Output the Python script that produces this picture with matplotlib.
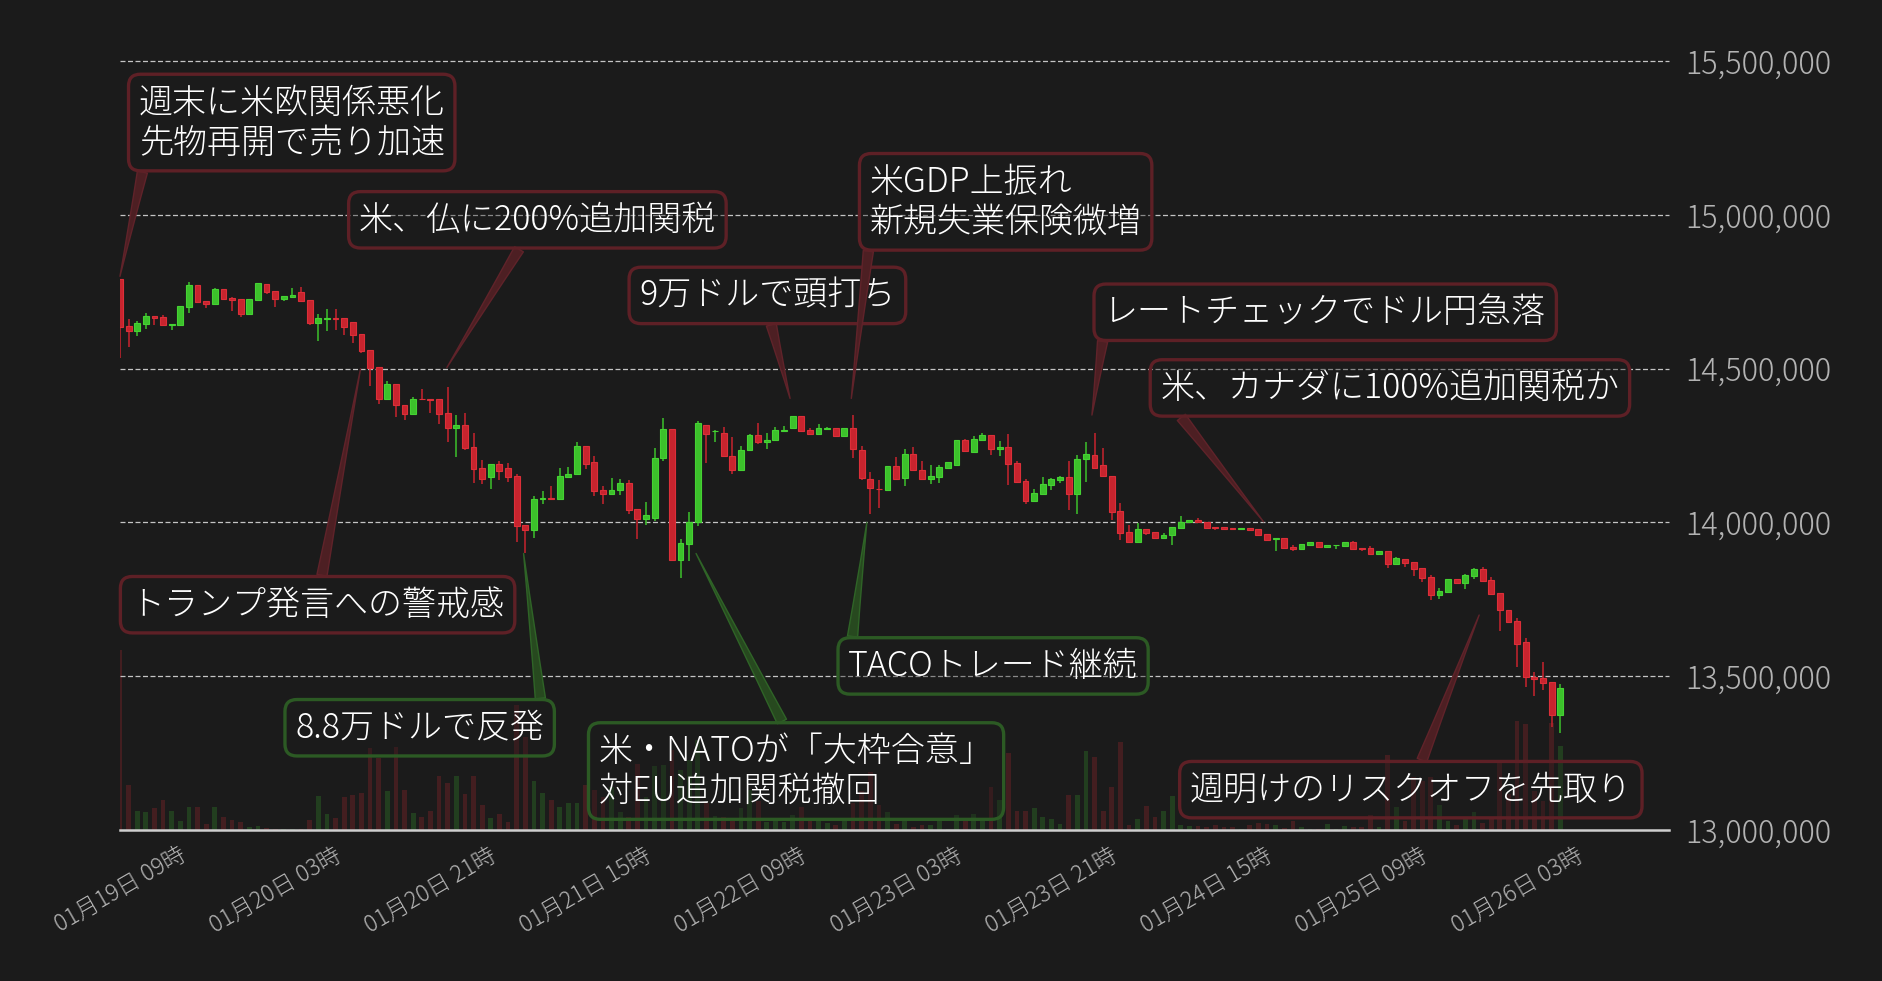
import numpy as np
import matplotlib
matplotlib.use("Agg")
import matplotlib.pyplot as plt
from matplotlib.ticker import FuncFormatter

plt.rcParams['font.family'] = ['Noto Sans CJK JP', 'DejaVu Sans']
plt.rcParams['font.weight'] = 'light'

# ---------------- data (prices in thousand JPY, hourly candles from 01/19 09:00) ----------------
opens = [14790, 14638, 14622, 14645, 14670, 14667, 14643, 14643, 14700, 14771, 14719, 14710, 14758, 14729, 14725, 14678,
         14723, 14774, 14751, 14727, 14733, 14748, 14722, 14648, 14662, 14663, 14664, 14651, 14612, 14560, 14504, 14401,
         14449, 14381, 14353, 14401, 14400, 14400, 14355, 14307, 14316, 14244, 14176, 14148, 14189, 14176, 14150, 13991,
         13976, 14075, 14079, 14077, 14148, 14158, 14247, 14195, 14107, 14093, 14106, 14127, 14043, 14012, 14015, 14209,
         14303, 13879, 13931, 14000, 14316, 14296, 14290, 14216, 14171, 14236, 14284, 14263, 14269, 14298, 14307, 14346,
         14300, 14288, 14305, 14306, 14282, 14306, 14235, 14141, 14109, 14105, 14185, 14145, 14222, 14170, 14142, 14149,
         14177, 14187, 14268, 14230, 14269, 14284, 14240, 14245, 14193, 14134, 14070, 14093, 14122, 14138, 14147, 14093,
         14206, 14219, 14186, 14151, 14037, 13969, 13937, 13978, 13969, 13950, 13960, 13983, 14000, 14008, 14000, 13985,
         13985, 13982, 13979, 13982, 13978, 13962, 13945, 13949, 13921, 13914, 13927, 13936, 13920, 13925, 13924, 13936,
         13917, 13917, 13898, 13907, 13866, 13881, 13871, 13852, 13822, 13765, 13775, 13816, 13804, 13827, 13848, 13813,
         13770, 13715, 13679, 13611, 13498, 13494, 13481, 13374]
highs = [14790, 14660, 14654, 14681, 14670, 14673, 14645, 14703, 14781, 14771, 14719, 14761, 14758, 14733, 14725, 14725,
         14777, 14774, 14751, 14735, 14761, 14764, 14722, 14677, 14693, 14693, 14664, 14651, 14612, 14560, 14504, 14459,
         14449, 14383, 14407, 14433, 14400, 14400, 14439, 14348, 14357, 14290, 14202, 14189, 14199, 14192, 14159, 13991,
         14086, 14102, 14120, 14176, 14179, 14261, 14247, 14215, 14120, 14146, 14140, 14138, 14043, 14066, 14241, 14339,
         14303, 13945, 14033, 14329, 14316, 14300, 14310, 14277, 14248, 14287, 14323, 14291, 14310, 14315, 14346, 14346,
         14307, 14319, 14310, 14306, 14306, 14350, 14248, 14164, 14138, 14185, 14212, 14238, 14245, 14199, 14186, 14186,
         14196, 14268, 14271, 14281, 14292, 14284, 14264, 14287, 14199, 14141, 14108, 14147, 14144, 14151, 14199, 14219,
         14261, 14290, 14242, 14151, 14063, 13991, 13998, 13978, 13969, 13965, 13985, 14021, 14008, 14013, 14000, 13985,
         13985, 13982, 13982, 13982, 13978, 13962, 13949, 13949, 13926, 13930, 13936, 13936, 13926, 13926, 13936, 13939,
         13917, 13923, 13907, 13907, 13887, 13881, 13871, 13852, 13829, 13787, 13816, 13816, 13833, 13852, 13855, 13822,
         13770, 13715, 13689, 13624, 13513, 13546, 13481, 13474]
lows = [14535, 14570, 14605, 14628, 14641, 14641, 14625, 14643, 14681, 14712, 14697, 14710, 14723, 14688, 14668, 14678,
        14723, 14742, 14700, 14720, 14733, 14720, 14641, 14590, 14622, 14625, 14609, 14583, 14551, 14444, 14385, 14401,
        14343, 14332, 14353, 14400, 14356, 14321, 14262, 14213, 14237, 14128, 14126, 14109, 14138, 14131, 13936, 13899,
        13950, 14061, 14074, 14077, 14145, 14158, 14175, 14087, 14061, 14093, 14090, 14028, 13947, 13992, 14005, 14200,
        13879, 13820, 13875, 13989, 14194, 14262, 14217, 14157, 14171, 14236, 14256, 14238, 14269, 14298, 14304, 14297,
        14288, 14288, 14299, 14282, 14279, 14210, 14139, 14028, 14048, 14102, 14142, 14118, 14171, 14141, 14126, 14129,
        14177, 14187, 14232, 14230, 14269, 14220, 14217, 14121, 14132, 14061, 14065, 14093, 14106, 14129, 14041, 14028,
        14132, 14178, 14151, 14009, 13944, 13937, 13937, 13959, 13950, 13947, 13926, 13983, 14000, 14001, 13983, 13976,
        13979, 13979, 13979, 13975, 13958, 13944, 13907, 13918, 13907, 13914, 13927, 13921, 13918, 13913, 13924, 13914,
        13908, 13898, 13898, 13853, 13862, 13856, 13827, 13807, 13749, 13752, 13775, 13804, 13784, 13817, 13806, 13764,
        13648, 13677, 13531, 13466, 13436, 13455, 13336, 13316]
closes = [14635, 14622, 14647, 14670, 14665, 14641, 14644, 14703, 14771, 14716, 14710, 14758, 14725, 14723, 14678, 14725,
          14777, 14749, 14727, 14735, 14739, 14720, 14648, 14664, 14663, 14662, 14636, 14609, 14557, 14502, 14401, 14449,
          14381, 14353, 14400, 14400, 14398, 14353, 14307, 14316, 14242, 14174, 14141, 14189, 14167, 14148, 13988, 13976,
          14076, 14080, 14077, 14150, 14159, 14247, 14191, 14103, 14093, 14107, 14127, 14041, 14012, 14024, 14208, 14303,
          13879, 13933, 14000, 14323, 14288, 14297, 14217, 14171, 14237, 14284, 14262, 14267, 14302, 14302, 14346, 14297,
          14288, 14306, 14306, 14282, 14306, 14240, 14145, 14113, 14108, 14185, 14142, 14222, 14171, 14141, 14151, 14180,
          14196, 14268, 14232, 14271, 14284, 14238, 14245, 14191, 14132, 14070, 14095, 14125, 14141, 14147, 14093, 14206,
          14222, 14178, 14151, 14035, 13966, 13937, 13978, 13966, 13950, 13959, 13985, 14000, 14008, 14001, 13983, 13983,
          13979, 13979, 13982, 13975, 13960, 13944, 13949, 13918, 13915, 13930, 13936, 13921, 13926, 13926, 13936, 13914,
          13914, 13898, 13907, 13866, 13884, 13869, 13849, 13820, 13765, 13777, 13816, 13804, 13829, 13848, 13810, 13767,
          13716, 13677, 13606, 13498, 13492, 13479, 13374, 13461]
volumes = [180, 45, 19, 18, 22, 30, 19, 9, 23, 23, 6, 23, 13, 10, 8, 3, 4, 2, 1, 1, 1, 1, 10, 34, 16, 12, 33, 35, 37, 82,
           72, 39, 83, 40, 17, 13, 19, 54, 47, 54, 36, 54, 25, 12, 16, 8, 125, 93, 49, 37, 30, 23, 27, 27, 45, 40, 33, 43,
           18, 13, 66, 33, 64, 65, 80, 60, 70, 90, 27, 14, 13, 12, 22, 40, 29, 8, 12, 8, 15, 23, 12, 12, 7, 5, 9, 27, 39,
           58, 25, 18, 6, 9, 3, 5, 5, 9, 1, 15, 9, 16, 12, 43, 30, 77, 19, 19, 22, 13, 11, 6, 35, 35, 79, 73, 19, 43, 88,
           5, 11, 24, 13, 19, 34, 5, 4, 4, 3, 5, 3, 3, 1, 5, 7, 6, 5, 2, 9, 3, 1, 1, 6, 1, 4, 3, 3, 15, 3, 75, 23, 9, 53,
           49, 53, 25, 9, 5, 13, 18, 7, 13, 70, 36, 109, 106, 39, 29, 107, 84]

tick_labels = ["01月19日 09時", "01月20日 03時", "01月20日 21時", "01月21日 15時", "01月22日 09時",
               "01月23日 03時", "01月23日 21時", "01月24日 15時", "01月25日 09時", "01月26日 03時"]
tick_step = 18
y_ticks = [13_000_000, 13_500_000, 14_000_000, 14_500_000, 15_000_000, 15_500_000]

# (text, kind, candle index of tip, tip price, box centre in axes fraction, arrow start rel. to text)
annotations = [
    ("週末に米欧関係悪化\n先物再開で売り加速", "down", 0.0, 14_800_000, (0.1109, 0.920), (0.02, 0.0)),
    ("米、仏に200%追加関税", "down", 37.9, 14_503_000, (0.2695, 0.7935), (0.468, 0.0)),
    ("トランプ発言への警戒感", "down", 27.9, 14_500_000, (0.1276, 0.293), (0.506, 1.0)),
    ("8.8万ドルで反発", "up", 46.8, 13_899_000, (0.1935, 0.133), (0.99, 1.0)),
    ("米・NATOが「大枠合意」\n対EU追加関税撤回", "up", 66.8, 13_899_000, (0.4365, 0.0767), (0.479, 1.0)),
    ("9万ドルで頭打ち", "down", 77.7, 14_403_000, (0.4180, 0.6952), (0.504, 0.0)),
    ("米GDP上振れ\n新規失業保険微増", "down", 84.8, 14_403_000, (0.5718, 0.8169), (0.0, 0.0)),
    ("TACOトレード継続", "up", 86.6, 14_000_000, (0.5637, 0.2134), (0.01, 1.0)),
    ("レートチェックでドル円急落", "down", 112.7, 14_349_000, (0.7781, 0.6733), (0.0, 0.0)),
    ("米、カナダに100%追加関税か", "down", 132.6, 14_002_000, (0.8199, 0.5749), (0.026, 0.0)),
    ("週明けのリスクオフを先取り", "down", 157.6, 13_699_000, (0.8334, 0.0525), (0.515, 1.0)),
]

# ---------------- styling ----------------
BG = '#1b1b1b'
RED = '#c8242e'
RED_EDGE = '#dc2f39'
GREEN = '#3cc12b'
GREEN_EDGE = '#45d233'
GRID = '#c4c4c4'
LABEL = '#b3b3b3'
BOX = {"down": ('#5e2026', '#4d1f23', '#60232a'),
       "up": ('#2c5a24', '#27491f', '#2f6427')}

o = np.array(opens) * 1000.0
h = np.array(highs) * 1000.0
l = np.array(lows) * 1000.0
c = np.array(closes) * 1000.0
v = np.array(volumes, dtype=float)
n = len(o)
x = np.arange(n)
up = c >= o

fig = plt.figure(figsize=(18.83, 9.81), dpi=100, facecolor=BG)
ax = fig.add_axes([0.0637, 0.1539, 0.8226, 0.7839])
ax2 = ax.twinx()
ax.set_zorder(ax2.get_zorder() + 1)
ax.patch.set_visible(False)
ax2.set_facecolor(BG)

# volume
vcol = [(0.24, 0.75, 0.18, 0.22) if u else (0.83, 0.16, 0.21, 0.22) for u in up]
ax2.bar(x, v, width=0.55, color=vcol, linewidth=0)
ax2.set_ylim(0, v.max() * 4.27)
ax2.axis('off')

# candles
col = np.where(up, GREEN, RED)
ecol = np.where(up, GREEN_EDGE, RED_EDGE)
ax.vlines(x, l, h, colors=col, linewidth=1.1, zorder=3)
body_b = np.minimum(o, c)
body_h = np.maximum(np.abs(c - o), 1200)
ax.bar(x, body_h, bottom=body_b, width=0.68, color=col, edgecolor=ecol, linewidth=0.8, zorder=4)

ax.set_xlim(0, 179.6)
ax.set_ylim(y_ticks[0], y_ticks[-1])

for yv in y_ticks[1:]:
    ax.axhline(yv, color=GRID, lw=0.9, ls=(0, (4, 2)), zorder=1, clip_on=False)
ax.axhline(y_ticks[0], color='#cfcfcf', lw=1.8, zorder=5, clip_on=False)

for s in ax.spines.values():
    s.set_visible(False)
ax.yaxis.tick_right()
ax.set_yticks(y_ticks)
ax.yaxis.set_major_formatter(FuncFormatter(lambda val, pos: f"{int(round(val)):,}"))
ax.tick_params(axis='y', length=0, pad=12, labelsize=22, labelcolor=LABEL)
ax.set_xticks(np.arange(len(tick_labels)) * tick_step)
ax.set_xticklabels(tick_labels, rotation=30, ha='center')
ax.tick_params(axis='x', length=0, pad=9, labelsize=16.5, labelcolor=LABEL)

for text, kind, ti, tp, (fx, fy), rel in annotations:
    edge, pfc, pec = BOX[kind]
    ax.annotate(text, xy=(ti, tp), xycoords='data', xytext=(fx, fy), textcoords='axes fraction',
                ha='center', va='center', multialignment='left', fontsize=24.5, color='white',
                fontweight='light', linespacing=1.15, zorder=7, annotation_clip=False,
                bbox=dict(boxstyle='round,pad=0.3,rounding_size=0.35', fc=(0.106, 0.106, 0.106, 0.35),
                          ec=edge, lw=2.4),
                arrowprops=dict(arrowstyle='wedge,tail_width=0.3,shrink_factor=0.45', fc=pfc, ec=pec,
                                lw=1.0, relpos=rel, shrinkA=0, shrinkB=0))

fig.savefig('out.png', dpi=100, facecolor=BG)
